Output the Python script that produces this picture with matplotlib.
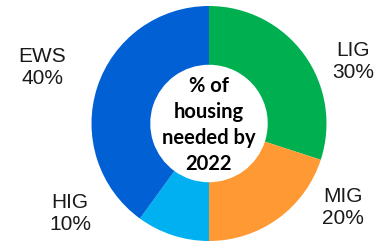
import matplotlib
matplotlib.use("Agg")
import matplotlib.pyplot as plt

categories = ["LIG", "MIG", "HIG", "EWS"]
values = [30, 20, 10, 40]
colors = ["#00B050", "#FF9933", "#00B0F0", "#0060D4"]
center_title = "% of\nhousing\nneeded by\n2022"

W, H = 378, 241
fig = plt.figure(figsize=(W / 100, H / 100), dpi=100)
cx, cy, r = 209, 123.5, 117.5
ax = fig.add_axes([(cx - r) / W, (H - cy - r) / H, 2 * r / W, 2 * r / H])
ax.pie(values, colors=colors, startangle=90, counterclock=False, radius=1,
       wedgeprops=dict(width=0.5, linewidth=0))
ax.set_xlim(-1, 1)
ax.set_ylim(-1, 1)
ax.set_aspect("equal")
ax.axis("off")

ax.text(0, -0.01, center_title, ha="center", va="center", fontsize=14.5,
        fontweight="bold", family=["Lato", "DejaVu Sans"], linespacing=1.38,
        color="black")

label_pos = {"LIG": (353, 61), "MIG": (343, 207), "HIG": (70, 214), "EWS": (42, 68)}
for c, v in zip(categories, values):
    x, y = label_pos[c]
    fig.text(x / W, 1 - y / H, f"{c}\n{v}%", ha="center", va="center",
             fontsize=15, family=["Liberation Sans", "DejaVu Sans"],
             linespacing=1.2, color="#1a1a1a")

fig.savefig("out.png", dpi=100)
